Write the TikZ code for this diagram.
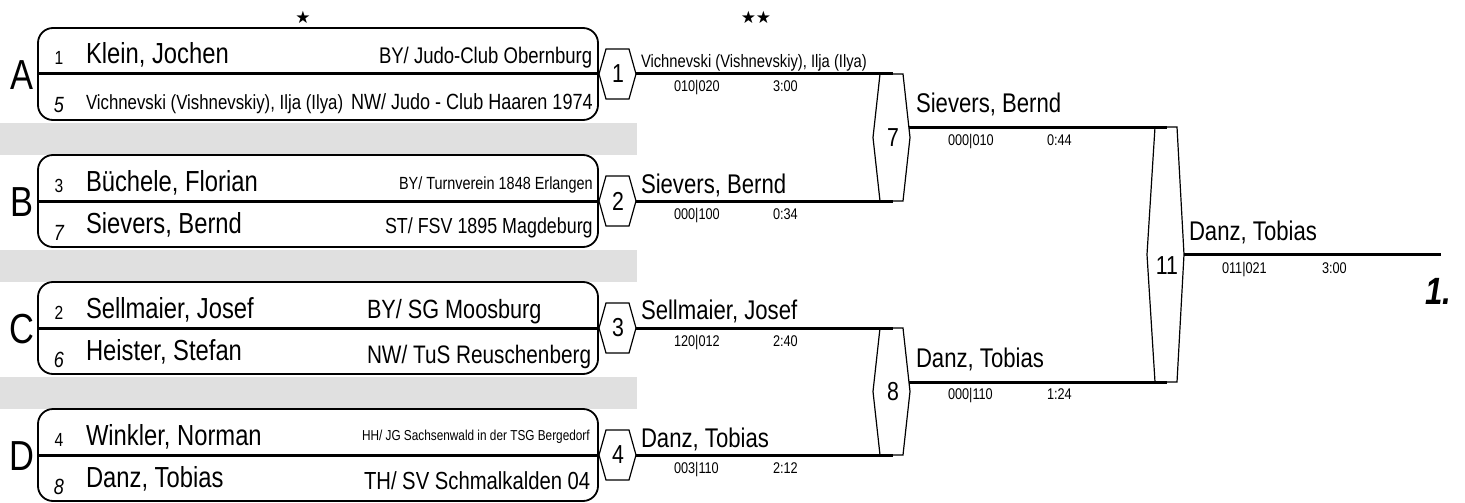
\documentclass[tikz,border=0pt]{standalone}
\usepackage{fontspec}
\setmainfont{Liberation Sans}[FakeStretch=0.82]
\newfontfamily\starfont{DejaVu Sans}
\newcommand\fsz[1]{\fontsize{#1}{#1}\selectfont}
\definecolor{bandgray}{RGB}{224,224,224}
\begin{document}
\begin{tikzpicture}[x=1pt,y=-1pt,
  every node/.style={inner sep=0pt,outer sep=0pt},
  box/.style={draw,line width=1.8pt,rounded corners=15pt},
  divider/.style={line width=3pt},
  band/.style={fill=bandgray,draw=none},
  hex/.style={draw,line width=1.2pt,fill=white,line join=miter},
  win/.style={line width=3pt},
  grp/.style={font=\fsz{42},anchor=base},
  seedtop/.style={font=\fsz{19},anchor=base},
  seedbot/.style={font=\fsz{22}\itshape,anchor=base},
  pname/.style={font=\fsz{#1},anchor=base west},
  pname/.default=29,
  club/.style={font=\fsz{#1},anchor=base west},
  hexnum/.style={font=\fsz{26}},
  wname/.style={font=\fsz{#1},anchor=base west},
  wname/.default=27,
  score/.style={font=\fsz{15.5},anchor=base west},
  star/.style={font=\starfont\fsz{17}}
]
\useasboundingbox (0,0) rectangle (1465,503);
% grey bands
\foreach \y in {123,250,377} \fill[band] (0,\y) rectangle (637,\y+32);
% pool boxes
\foreach \y/\g in {74/A,201/B,328/C,455/D} {
  \draw[box] (38,\y-46) rectangle (598,\y+46);
  \draw[divider] (38,\y) -- (598,\y);
  \node[grp] (g\g) at (22,\y+15) {\g};
}
% stars
\node[star] (st1) at (303,17) {★};
\node[star] (st2) at (756,17) {★★};
% competitors
\node[seedtop] (sA1) at (59,65) {1};
\node[pname] (pA1) at (86,64) {Klein, Jochen};
\node[club=22.6] (cA1) at (379,64) {BY/ Judo-Club Obernburg};
\node[seedbot] (sA2) at (59,113) {5};
\node[pname=20.5] (pA2) at (86,110) {Vichnevski (Vishnevskiy), Ilja (Ilya)};
\node[club=22] (cA2) at (351,110) {NW/ Judo - Club Haaren 1974};

\node[seedtop] (sB1) at (59,192) {3};
\node[pname] (pB1) at (86,191) {Büchele, Florian};
\node[club=17.6] (cB1) at (399,189) {BY/ Turnverein 1848 Erlangen};
\node[seedbot] (sB2) at (59,240) {7};
\node[pname] (pB2) at (86,233) {Sievers, Bernd};
\node[club=21.8] (cB2) at (385,233) {ST/ FSV 1895 Magdeburg};

\node[seedtop] (sC1) at (59,319) {2};
\node[pname] (pC1) at (86,318) {Sellmaier, Josef};
\node[club=26.4] (cC1) at (367,318) {BY/ SG Moosburg};
\node[seedbot] (sC2) at (59,367) {6};
\node[pname] (pC2) at (86,360) {Heister, Stefan};
\node[club=25.3] (cC2) at (367,363) {NW/ TuS Reuschenberg};

\node[seedtop] (sD1) at (59,446) {4};
\node[pname] (pD1) at (86,445) {Winkler, Norman};
\node[club=14.4] (cD1) at (362,440) {HH/ JG Sachsenwald in der TSG Bergedorf};
\node[seedbot] (sD2) at (59,494) {8};
\node[pname] (pD2) at (86,487) {Danz, Tobias};
\node[club=24.7] (cD2) at (364,489) {TH/ SV Schmalkalden 04};

% round 1 hexagons
\foreach \n/\y in {1/74,2/201,3/328,4/455} {
  \draw[hex] (599,\y) -- (606,\y-25) -- (629,\y-25) -- (636,\y) -- (629,\y+25) -- (606,\y+25) -- cycle;
  \node[hexnum] (m\n) at (618,\y) {\n};
  \coordinate (out\n) at (636,\y);
}
% semifinal hexagons
\draw[hex] (873,137.5) -- (880,74) -- (903,74) -- (910,137.5) -- (903,201) -- (880,201) -- cycle;
\node[hexnum] (m7) at (893,138) {7};
\coordinate (m7a) at (893,74);
\coordinate (m7b) at (893,201);
\coordinate (out7) at (909,127);
\draw[hex] (873,391.5) -- (880,328) -- (903,328) -- (910,391.5) -- (903,455) -- (880,455) -- cycle;
\node[hexnum] (m8) at (893,392) {8};
\coordinate (m8a) at (893,328);
\coordinate (m8b) at (893,455);
\coordinate (out8) at (909,382);
% final hexagon
\draw[hex] (1147,254.5) -- (1155,127) -- (1177,127) -- (1184,254.5) -- (1177,382) -- (1155,382) -- cycle;
\node[hexnum] (m11) at (1167,266) {11};
\coordinate (m11a) at (1167,127);
\coordinate (m11b) at (1167,382);
\coordinate (out11) at (1184,254.5);
\coordinate (champ) at (1441,254.5);
% winner lines
\draw[win] (out1) -- (m7a);
\draw[win] (out2) -- (m7b);
\draw[win] (out3) -- (m8a);
\draw[win] (out4) -- (m8b);
\draw[win] (out7) -- (m11a);
\draw[win] (out8) -- (m11b);
\draw[win] (out11) -- (champ);
% winner texts
\node[wname=18] (w1) at (641,67) {Vichnevski (Vishnevskiy), Ilja (Ilya)};
\node[score] (r1) at (674,92) {010|020};
\node[score] (t1) at (773,92) {3:00};
\node[wname] (w2) at (641,193) {Sievers, Bernd};
\node[score] (r2) at (674,219) {000|100};
\node[score] (t2) at (773,219) {0:34};
\node[wname] (w3) at (641,319) {Sellmaier, Josef};
\node[score] (r3) at (674,346) {120|012};
\node[score] (t3) at (773,346) {2:40};
\node[wname] (w4) at (641,447) {Danz, Tobias};
\node[score] (r4) at (674,473) {003|110};
\node[score] (t4) at (773,473) {2:12};
\node[wname] (w7) at (916,113) {Sievers, Bernd};
\node[score] (r7) at (948,145) {000|010};
\node[score] (t7) at (1047,145) {0:44};
\node[wname] (w8) at (916,367) {Danz, Tobias};
\node[score] (r8) at (948,399.5) {000|110};
\node[score] (t8) at (1047,399.5) {1:24};
\node[wname] (w11) at (1189,240) {Danz, Tobias};
\node[score] (r11) at (1222,273) {011|021};
\node[score] (t11) at (1322,273) {3:00};
\node[font=\fsz{38}\bfseries\itshape,anchor=base east] (place) at (1451,304) {1.};
\end{tikzpicture}
\end{document}
